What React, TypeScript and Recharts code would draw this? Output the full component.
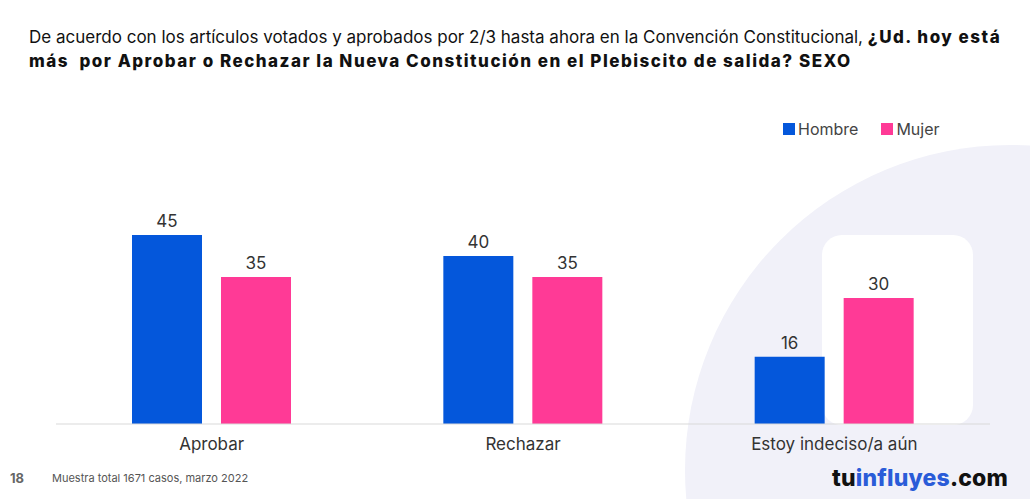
import React from "react";
import { BarChart, Bar, XAxis, YAxis, LabelList } from "recharts";

const categories = ["Aprobar", "Rechazar", "Estoy indeciso/a aún"];
const hombre = [45, 40, 16];
const mujer = [35, 35, 30];
const data = categories.map((c, i) => ({ name: c, Hombre: hombre[i], Mujer: mujer[i] }));

const BLUE = "#0457DB";
const PINK = "#FF3A96";
const FONT = "Inter, 'Noto Sans', sans-serif";

export default function App() {
  return (
    <div style={{ position: "absolute", left: 0, top: 0, width: 1030, height: 499, background: "#fff", overflow: "hidden", fontFamily: FONT }}>
      <div style={{ position: "absolute", left: 685, top: 145, width: 650, height: 650, borderRadius: "50%", background: "#F1F1F9" }} />
      <div style={{ position: "absolute", left: 822, top: 235, width: 151, height: 190, borderRadius: 20, background: "#fff" }} />
      <div style={{ position: "absolute", left: 29, top: 25, width: 995, fontSize: 17, lineHeight: "24px", color: "#111" }}>
        De acuerdo con los artículos votados y aprobados por 2/3 hasta ahora en la Convención Constitucional,{" "}
        <b style={{ fontWeight: 800, letterSpacing: 1.5 }}>¿Ud. hoy está más&nbsp; por Aprobar o Rechazar la Nueva Constitución en el Plebiscito de salida? SEXO</b>
      </div>
      <div style={{ position: "absolute", left: 783, top: 119, fontSize: 16, color: "#444", display: "flex", alignItems: "center" }}>
        <span style={{ width: 12, height: 12, background: BLUE, display: "inline-block", marginRight: 3 }} />
        <span>Hombre</span>
        <span style={{ width: 12, height: 12, background: PINK, display: "inline-block", marginLeft: 23, marginRight: 3 }} />
        <span>Mujer</span>
      </div>
      <div style={{ position: "absolute", left: 56, top: 172 }}>
        <BarChart width={934} height={292} data={data} margin={{ top: 0, right: 0, bottom: 0, left: 0 }} barGap={19} barCategoryGap={76}>
          <YAxis hide domain={[0, 60]} />
          <XAxis dataKey="name" axisLine={{ stroke: "#D9D9D9" }} tickLine={false} height={40} tick={{ fill: "#333", fontSize: 17, fontFamily: FONT }} tickMargin={8} />
          <Bar dataKey="Hombre" fill={BLUE} isAnimationActive={false}>
            <LabelList dataKey="Hombre" position="top" offset={8} style={{ fill: "#333", fontSize: 17, fontFamily: FONT }} />
          </Bar>
          <Bar dataKey="Mujer" fill={PINK} isAnimationActive={false}>
            <LabelList dataKey="Mujer" position="top" offset={8} style={{ fill: "#333", fontSize: 17, fontFamily: FONT }} />
          </Bar>
        </BarChart>
      </div>
      <div style={{ position: "absolute", left: 10, top: 470, fontSize: 13, fontWeight: 700, color: "#666" }}>18</div>
      <div style={{ position: "absolute", left: 52, top: 471, fontSize: 11, color: "#555" }}>Muestra total 1671 casos, marzo 2022</div>
      <div style={{ position: "absolute", left: 832, top: 464, fontSize: 23, fontWeight: 800, color: "#111", letterSpacing: 0.2 }}>
        tu<span style={{ color: "#2A5CD8" }}>influyes</span>.com
      </div>
    </div>
  );
}
